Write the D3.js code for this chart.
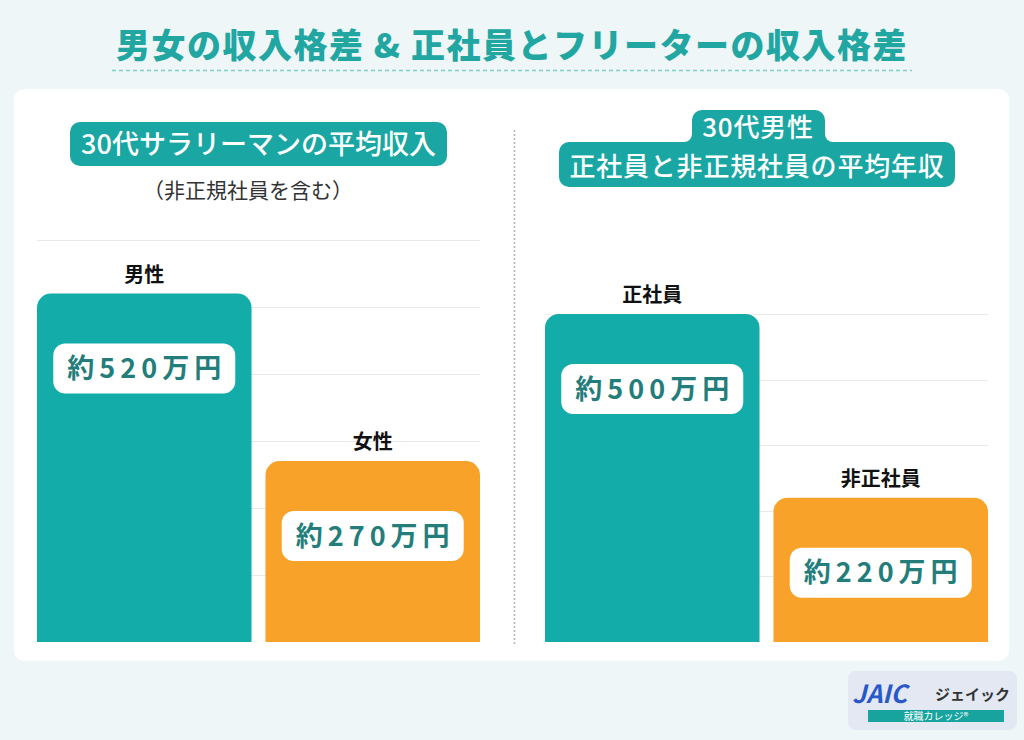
<!DOCTYPE html>
<html><head><meta charset="utf-8">
<script src="https://cdn.jsdelivr.net/npm/d3@7"></script>
<style>
html,body{margin:0;padding:0;background:#eef6f7;}
svg{display:block;font-family:"Noto Sans CJK JP","Noto Sans",sans-serif;}
</style></head>
<body>
<svg id="c" width="1024" height="740"></svg>
<script>
// ---- data ----
const titleText = "男女の収入格差 & 正社員とフリーターの収入格差";
const leftTitle = "30代サラリーマンの平均収入";
const leftSubtitle = "（非正規社員を含む）";
const leftCategories = ["男性", "女性"];
const leftValues = [520, 270];
const leftTicks = [100, 200, 300, 400, 500, 600];
const rightTitle1 = "30代男性";
const rightTitle2 = "正社員と非正規社員の平均年収";
const rightCategories = ["正社員", "非正社員"];
const rightValues = [500, 220];
const rightTicks = [100, 200, 300, 400, 500];
const barColors = ["#13aca8", "#f9a22a"];

const svg = d3.select("#c");
const TEAL = "#1aa7a3";
const TEXTTEAL = "#237e7b";

// background
svg.append("rect").attr("width",1024).attr("height",740).attr("fill","#eef6f7");
// title
svg.append("text").attr("x",512).attr("y",58).attr("text-anchor","middle")
  .attr("font-size",34).attr("font-weight",900).attr("letter-spacing",1.5).attr("fill","#22a6a2").text(titleText);
svg.append("line").attr("x1",112).attr("x2",912).attr("y1",70.5).attr("y2",70.5)
  .attr("stroke","#7fcfcd").attr("stroke-width",1.5).attr("stroke-dasharray","4,3");

// panel
svg.append("rect").attr("x",14).attr("y",89).attr("width",995).attr("height",572)
  .attr("rx",10).attr("fill","#ffffff");

// divider
svg.append("line").attr("x1",514.5).attr("x2",514.5).attr("y1",130).attr("y2",646)
  .attr("stroke","#b5b5b5").attr("stroke-width",1.5).attr("stroke-dasharray","2,2");

function topRoundedBar(x,y,w,h,r){
  r = Math.min(r,h,w/2);
  return `M${x},${y+h}V${y+r}A${r},${r} 0 0 1 ${x+r},${y}H${x+w-r}A${r},${r} 0 0 1 ${x+w},${y+r}V${y+h}Z`;
}

function drawChart(cfg){
  const g = svg.append("g");
  const x = d3.scaleBand().domain(cfg.categories).range(cfg.xRange).paddingInner(0.061).paddingOuter(0);
  const y = d3.scaleLinear().domain([0,cfg.max]).range([642,cfg.top]);
  // gridlines
  g.selectAll("line.grid").data(cfg.ticks).join("line")
    .attr("x1",cfg.xRange[0]).attr("x2",cfg.xRange[1])
    .attr("y1",d=>Math.round(y(d))+0.5).attr("y2",d=>Math.round(y(d))+0.5)
    .attr("stroke","#e9e9e9").attr("stroke-width",1.2);
  const data = cfg.categories.map((c,i)=>({c, v:cfg.values[i], i}));
  // bars
  g.selectAll("path.bar").data(data).join("path")
    .attr("d",d=>topRoundedBar(x(d.c), y(d.v), x.bandwidth(), 642 - y(d.v), 14))
    .attr("fill",d=>barColors[d.i]);
  // category labels
  g.selectAll("text.cat").data(data).join("text")
    .attr("x",d=>x(d.c)+x.bandwidth()/2).attr("y",d=>y(d.v)-12)
    .attr("text-anchor","middle").attr("font-size",20).attr("font-weight",700)
    .attr("fill","#111").text(d=>d.c);
  // value labels
  const bw = 182, bh = 50;
  g.selectAll("rect.vbox").data(data).join("rect")
    .attr("x",d=>x(d.c)+x.bandwidth()/2-bw/2).attr("y",d=>y(d.v)+50)
    .attr("width",bw).attr("height",bh).attr("rx",12).attr("fill","#fff");
  g.selectAll("text.val").data(data).join("text")
    .attr("x",d=>x(d.c)+x.bandwidth()/2+2.5).attr("y",d=>y(d.v)+50+bh/2+9.5)
    .attr("text-anchor","middle").attr("font-size",27).attr("font-weight",700)
    .attr("letter-spacing",5).attr("fill",TEXTTEAL).text(d=>"約"+d.v+"万円");
}

// left header
svg.append("rect").attr("x",70).attr("y",122).attr("width",377).attr("height",44).attr("rx",10).attr("fill",TEAL);
svg.append("text").attr("x",258.5).attr("y",154).attr("text-anchor","middle")
  .attr("font-size",27).attr("font-weight",500).attr("fill","#fff").text(leftTitle);
svg.append("text").attr("x",248).attr("y",198).attr("text-anchor","middle")
  .attr("font-size",21).attr("fill","#333").text(leftSubtitle);

// right header (two-tier tab)
(function(){
  const L=559,R=955,T=142,B=187,tl=692,tr=825,tt=110,r=10,f=8;
  const p = `M${L},${T+r}A${r},${r} 0 0 1 ${L+r},${T}H${tl-f}A${f},${f} 0 0 0 ${tl},${T-f}V${tt+r}A${r},${r} 0 0 1 ${tl+r},${tt}H${tr-r}A${r},${r} 0 0 1 ${tr},${tt+r}V${T-f}A${f},${f} 0 0 0 ${tr+f},${T}H${R-r}A${r},${r} 0 0 1 ${R},${T+r}V${B-r}A${r},${r} 0 0 1 ${R-r},${B}H${L+r}A${r},${r} 0 0 1 ${L},${B-r}Z`;
  svg.append("path").attr("d",p).attr("fill",TEAL);
  svg.append("text").attr("x",758).attr("y",137).attr("text-anchor","middle")
    .attr("font-size",26).attr("font-weight",500).attr("letter-spacing",0.8).attr("fill","#fff").text(rightTitle1);
  svg.append("text").attr("x",757).attr("y",176).attr("text-anchor","middle")
    .attr("font-size",26).attr("font-weight",500).attr("letter-spacing",0.8).attr("fill","#fff").text(rightTitle2);
})();

drawChart({categories:leftCategories, values:leftValues, ticks:leftTicks, max:600, top:240, xRange:[37,480]});
drawChart({categories:rightCategories, values:rightValues, ticks:rightTicks, max:500, top:314, xRange:[545,988]});

// logo
const lg = svg.append("g");
lg.append("rect").attr("x",848).attr("y",671).attr("width",169).attr("height",59).attr("rx",8).attr("fill","#e3e8f3");
lg.append("text").attr("x",852).attr("y",703).attr("font-size",25).attr("font-weight",700)
  .attr("font-style","italic").attr("fill","#2a58c8").text("JAIC");
lg.append("text").attr("x",935).attr("y",700).attr("font-size",15).attr("font-weight",700)
  .attr("fill","#333").text("ジェイック");
lg.append("rect").attr("x",868).attr("y",710).attr("width",136).attr("height",12).attr("fill","#17a49f");
lg.append("text").attr("x",936).attr("y",720).attr("text-anchor","middle").attr("font-size",10)
  .attr("fill","#fff").text("就職カレッジ®");
</script>
</body></html>
